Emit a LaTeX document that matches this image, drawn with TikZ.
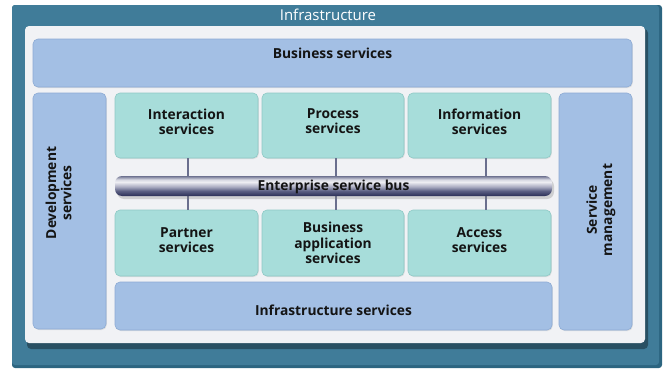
\documentclass[tikz,border=0pt]{standalone}
\usepackage{fontspec}
\setmainfont{Open Sans}
\usetikzlibrary{calc,shadows}
\definecolor{outerteal}{HTML}{407C99}
\definecolor{outerdark}{HTML}{2C6580}
\definecolor{panelwhite}{HTML}{F1F2F5}
\definecolor{boxblue}{HTML}{A3BFE4}
\definecolor{boxblueline}{HTML}{8DABD4}
\definecolor{boxteal}{HTML}{A7DDDA}
\definecolor{boxtealline}{HTML}{8EC9C5}
\definecolor{connclr}{HTML}{6A6F8E}
\definecolor{busA}{HTML}{6E7290}
\definecolor{busB}{HTML}{D8D9E3}
\definecolor{busC}{HTML}{EDEDF2}
\definecolor{busD}{HTML}{A8AAC0}
\definecolor{busE}{HTML}{5C6084}
\definecolor{busF}{HTML}{2B2F57}
\pgfdeclareverticalshading{busshade}{100bp}{color(0bp)=(busF); color(25bp)=(busF); color(38bp)=(busE); color(48bp)=(busD); color(60bp)=(busC); color(66bp)=(busB); color(75bp)=(busA); color(100bp)=(busA)}
\begin{document}
\begin{tikzpicture}[x=1pt,y=-1pt,
  base/.style={inner sep=0pt, outer sep=0pt, rounded corners=5pt, anchor=north west, line width=0.6pt},
  bluebox/.style={base, fill=boxblue, draw=boxblueline, drop shadow={shadow xshift=0.8pt, shadow yshift=-1pt, opacity=0.18}},
  tealbox/.style={base, fill=boxteal, draw=boxtealline, drop shadow={shadow xshift=0.8pt, shadow yshift=-1pt, opacity=0.18}},
  lbl/.style={align=center, font=\fontsize{13.8}{15.2}\selectfont\bfseries, text=black!92},
  vlbl/.style={lbl, rotate=90},
  conn/.style={draw=connclr, line width=2pt},
  busbox/.style={inner sep=0pt, outer sep=0pt, anchor=north west, rounded corners=7pt, shading=busshade, drop shadow={shadow xshift=2pt, shadow yshift=-3pt, opacity=0.3}},
  headtxt/.style={font=\fontsize{15}{17}\selectfont, text=white}
]
\useasboundingbox (0,0) rectangle (665,375);
% outer frame
\fill[outerdark, rounded corners=3pt] (12,5) rectangle (662,368);
\fill[outerteal, rounded corners=3pt] (12,5) rectangle (659,365);
\node[headtxt] (head) at (328,15) {Infrastructure};
% white panel with shadow
\fill[black, opacity=0.35, rounded corners=4pt] (27,29) rectangle (648,349);
\fill[panelwhite, rounded corners=4pt] (25,26) rectangle (645,343);
% boxes
\node[bluebox, minimum width=599, minimum height=48] (bs) at (33,39) {};
\node[bluebox, minimum width=73, minimum height=236] (dev) at (33,93) {};
\node[tealbox, minimum width=143, minimum height=65] (int) at (115,93) {};
\node[tealbox, minimum width=142, minimum height=65] (proc) at (262,93) {};
\node[tealbox, minimum width=143, minimum height=65] (info) at (408,93) {};
\node[tealbox, minimum width=143, minimum height=66] (partner) at (115,210) {};
\node[tealbox, minimum width=142, minimum height=66] (bapp) at (262,210) {};
\node[tealbox, minimum width=143, minimum height=66] (access) at (408,210) {};
\node[bluebox, minimum width=437, minimum height=48] (infs) at (115,282) {};
\node[bluebox, minimum width=73, minimum height=237] (sm) at (559,93) {};
% connectors
\draw[conn] ([xshift=1.5pt]int.south) -- ([xshift=1.5pt]partner.north);
\draw[conn] ([xshift=3pt]proc.south) -- ([xshift=3pt]bapp.north);
\draw[conn] ([xshift=6.5pt]info.south) -- ([xshift=6.5pt]access.north);
% bus
\node[busbox, minimum width=437, minimum height=20] (bus) at (115,176) {};
% texts
\node[lbl] (bsT) at ($(bs.center)+(0,-10)$) {Business services};
\node[vlbl] (devT) at ($(dev.center)+(-11,-18)$) {Development\\services};
\node[lbl] (intT) at ($(int.center)+(0,-4)$) {Interaction\\services};
\node[lbl] (procT) at ($(proc.center)+(0,-4)$) {Process\\services};
\node[lbl] (infoT) at ($(info.center)+(0,-4)$) {Information\\services};
\node[lbl] (partnerT) at ($(partner.center)+(0,-3)$) {Partner\\services};
\node[lbl] (bappT) at ($(bapp.center)+(0,0)$) {Business\\application\\services};
\node[lbl] (accessT) at ($(access.center)+(0,-3)$) {Access\\services};
\node[lbl] (infsT) at ($(infs.center)+(0,4)$) {Infrastructure services};
\node[vlbl] (smT) at ($(sm.center)+(5.5,-1.5)$) {Service\\management};
\node[lbl] (busT) at ($(bus.center)+(0,1)$) {Enterprise service bus};
\end{tikzpicture}
\end{document}
